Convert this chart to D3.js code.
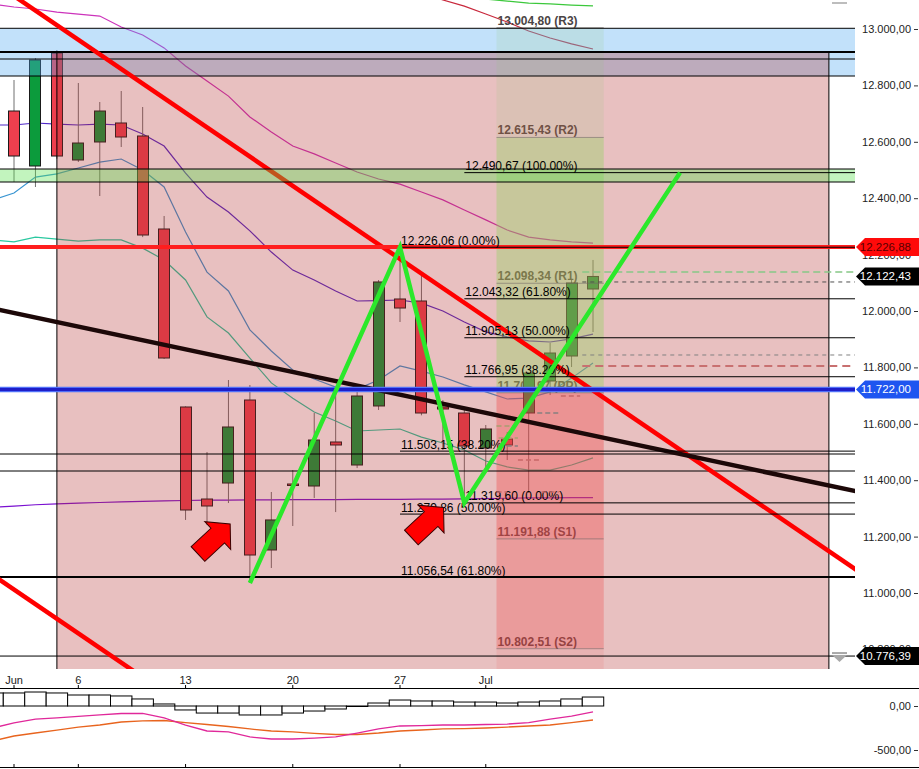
<!DOCTYPE html>
<html><head><meta charset="utf-8">
<script src="https://cdn.jsdelivr.net/npm/d3@7"></script>
<style>
html,body{margin:0;padding:0;background:#fff;}
svg{display:block;font-family:Arial,"Liberation Sans",sans-serif;}
</style></head><body>
<svg id="c" width="919" height="769"></svg>
<script>
// ---------------- DATA ----------------
const dates = ["2022-06-01","2022-06-02","2022-06-03","2022-06-06","2022-06-07","2022-06-08","2022-06-09","2022-06-10","2022-06-13","2022-06-14","2022-06-15","2022-06-16","2022-06-17","2022-06-20","2022-06-21","2022-06-22","2022-06-23","2022-06-24","2022-06-27","2022-06-28","2022-06-29","2022-06-30","2022-07-01","2022-07-04","2022-07-05","2022-07-06","2022-07-07","2022-07-08"];
const openP  = [12709.2,12514.2,12914.9,12535.5,12599.3,12666.7,12620.6,12290.8,11659.6,11333.3,11390.0,11684.4,11152.5,11386.5,11379.4,11535.5,11453.9,11663.2,12042.6,12035.5,11659.6,11638.3,11514.2,11546.0,11638.3,11751.8,11840.4,12078.0];
const closeP = [12549.6,12890.1,12549.6,12595.7,12709.2,12617.0,12269.5,11833.3,11294.3,11308.5,11588.7,11134.7,11259.0,11383.0,11542.5,11524.8,11698.6,12102.9,12010.6,11638.3,11652.5,11521.3,11581.6,11524.8,11780.0,11851.0,12099.3,12122.43];
const highP  = [12819.1,12897.0,12925.5,12808.5,12741.1,12780.1,12723.4,12336.9,11662.0,11500.0,11755.3,11737.6,11358.2,11436.0,11638.3,11712.8,11712.8,12109.9,12226.06,12134.8,11684.0,11656.0,11595.7,11571.0,11783.0,11886.5,12109.9,12180.9];
const lowP   = [12457.5,12439.7,12540.0,12528.4,12407.8,12581.6,12262.0,11829.8,11259.0,11241.0,11319.0,11035.5,11088.7,11237.6,11336.9,11287.0,11443.0,11649.0,11961.0,11630.0,11507.0,11319.60,11436.0,11471.6,11354.6,11702.0,11801.4,11925.5];

// indicator series start at day index -1 (2022-05-31)
const seriesStart = -1;
const maMagenta = [13088.7,13078,13071,13060,13053,13046,13007,12979,12933,12869,12816,12762,12688,12635,12585,12557,12525,12493,12468,12450,12422,12394,12358,12323,12287,12262,12252,12245,12241];
const maPurple  = [12659.6,12659.6,12666.7,12663,12659.6,12663,12659.6,12627.7,12585,12489,12404,12351,12284,12209,12145,12110,12071,12035.5,12037,12039,12028,12000,11961,11926,11908,11894,11890,11901,11918];
const maSteel   = [12393.6,12418.4,12475,12486,12507,12528,12539,12500,12440,12280,12138,12071,11933,11858,11791,11759,11730,11723,11755,11805,11787,11766,11738,11713,11688,11691,11713,11762,11816];
const maTeal    = [12252,12245,12262,12255,12248,12252,12252,12223,12181,12110,11979,11922,11833,11745,11691,11642,11610,11574.5,11578,11581.6,11553,11532,11507,11468,11447,11436,11436,11454,11479];
const maLower   = [11304,11308,11313,11316,11319,11321,11323,11325,11327,11328,11329,11329,11330,11330,11331,11331,11331,11332,11332,11332,11333,11333,11334,11335,11336,11337,11337,11338,11338];
const topRedStart = 18;
const topRed   = [13156,13128,13103,13081,13053,13025,12993,12968,12947,12929];
const topGreenStart = 22;
const topGreen = [13106,13099,13092,13089,13085,13082];

const macdHist   = [148,148,159,148,125,125,114,80,23,-45,-80,-80,-102,-102,-80,-57,-34,-3,34,68,57,57,45,45,34,45,57,80,102];
const macdLine   = [-250,-193,-148,-136,-119,-102,-85,-85,-136,-216,-284,-295,-352,-375,-375,-364,-352,-307,-261,-227,-222,-216,-216,-210,-205,-188,-148,-114,-68];
const macdSignal = [-398,-341,-307,-273,-239,-216,-182,-170,-165,-188,-210,-233,-261,-284,-295,-312,-324,-324,-307,-284,-273,-261,-256,-250,-239,-227,-216,-188,-159];

const xTickIndex  = [0,3,8,13,18,22];
const xTickLabels = ["Jun","6","13","20","27","Jul"];
const yTicks = [13000,12800,12600,12400,12200,12000,11800,11600,11400,11200,11000,10800];
const macdTicks = [0,-500];

const pivotNames  = ["R3","R2","R1","PP","S1","S2"];
const pivotValues = [13004.80,12615.43,12098.34,11709.97,11191.88,10802.51];
const pivotWeek   = [22.5,27.5];

const fibUpperValues = [12490.67,12043.32,11905.13,11766.95,11319.60];
const fibUpperPct    = ["100.00%","61.80%","50.00%","38.20%","0.00%"];
const fibUpperFrom   = 21;
const fibLowerValues = [12226.06,11503.15,11279.86,11056.54];
const fibLowerPct    = ["0.00%","38.20%","50.00%","61.80%"];
const fibLowerFrom   = 18;

const blueZone  = [13002.5,12833.3];
const greenZone = [12503.5,12457.4];
const pinkZone  = [2,38];
const pinkTop   = 12918.4;
const thinLevels = [13002.5,12893.6,12833.3,11492.9,11432.6,10776.39];
const thickLevels = [12918.4,11056.54];
const levelRed  = 12226.88;
const levelBlue = 11722.00;
const lastClose = 12122.43;
const lastLow   = 10776.39;

const dashFrom = 26.5;
const dashLevels = [12138.3,12102.9,11844.0,11805.0];
const shortDashes = [[22.5,23.3,11592],[22.6,23.5,11550],[22.6,23.5,11521],[23.5,24.5,11472],[24.4,25.4,11638],[25.5,26.4,11699],[24.6,25.4,11358],[22.5,23.0,11358]];

const trendRedUpper = [[-1,13169],[40,11044.7]];
const trendRedLower = [[-1,11063.9],[10,10494.3]];
const trendBlack    = [[-1,12009.2],[40,11349.0]];
const zigzag        = [[11,11035.5],[18,12226.06],[21,11319.60],[31.06,12490.67]];
const arrowsAt      = [[9.33,11191.5],[19.28,11250.0]];

// ---------------- DRAW ----------------
const W = 855, H = 669;
const svg = d3.select("#c");
const x = d3.scaleLinear().domain([0,27]).range([14,593]);
const y = d3.scaleLinear().domain([10800,13000]).range([649.4,29]);
const yM = d3.scaleLinear().domain([-500,0]).range([750,706]);
const loc = d3.formatLocale({decimal:",",thousands:".",grouping:[3],currency:["",""],minus:"-"});
const fmt = loc.format(",.2f");
const FONT = 'Arial,"Liberation Sans",sans-serif';

svg.append("rect").attr("width",919).attr("height",769).attr("fill","#fff");
svg.append("defs").append("clipPath").attr("id","clipMain").append("rect").attr("width",W).attr("height",H);
const g = svg.append("g").attr("clip-path","url(#clipMain)");

const pairs = (arr,start)=>arr.map((v,k)=>[start+k,v]);
const line = d3.line().x(d=>x(d[0])).y(d=>y(d[1]));
const hline = (sel,v,x0,x1)=>sel.append("line").attr("x1",x0).attr("x2",x1).attr("y1",y(v)).attr("y2",y(v));

// moving averages / bands (under overlays)
const maDefs = [[maMagenta,seriesStart,"#CC33BB"],[maPurple,seriesStart,"#5028C8"],[maSteel,seriesStart,"#3A96D2"],[maTeal,seriesStart,"#2AC8A0"],[maLower,seriesStart,"#7A10D0"],[topRed,topRedStart,"#C8283C"],[topGreen,topGreenStart,"#3CC83C"]];
maDefs.forEach(([arr,s,c])=>{
  g.append("path").attr("d",line(pairs(arr,s))).attr("fill","none").attr("stroke",c).attr("stroke-width",1.2);
});

// pivot labels (beneath overlays)
pivotValues.forEach((v,k)=>{
  g.append("text").attr("x",x(pivotWeek[0])+1).attr("y",y(v)-3)
   .attr("font-size",12).attr("font-weight","bold").attr("fill","#4a4444")
   .text(`${fmt(v)} (${pivotNames[k]})`);
});

// candles
const cg = g.append("g");
dates.forEach((d,i)=>{
  const up = closeP[i] >= openP[i];
  cg.append("line").attr("x1",x(i)).attr("x2",x(i)).attr("y1",y(highP[i])).attr("y2",y(lowP[i]))
    .attr("stroke","#707070").attr("stroke-width",1);
  const top = y(Math.max(openP[i],closeP[i])), bot = y(Math.min(openP[i],closeP[i]));
  cg.append("rect").attr("x",Math.round(x(i))-5.5).attr("width",11)
    .attr("y",top).attr("height",Math.max(1.5,bot-top))
    .attr("fill",up?"#0C9B3C":"#EE3F4E").attr("stroke","#1a1a1a").attr("stroke-width",1);
});

// blue zone
g.append("rect").attr("x",0).attr("width",W).attr("y",y(blueZone[0])).attr("height",y(blueZone[1])-y(blueZone[0]))
 .attr("fill","rgba(80,170,240,0.35)");
// pink zone
g.append("rect").attr("x",x(pinkZone[0])).attr("width",x(pinkZone[1])-x(pinkZone[0]))
 .attr("y",y(pinkTop)).attr("height",H-y(pinkTop)).attr("fill","rgba(178,45,45,0.3)");
// weekly pivot column zones
const zoneFills = ["rgba(150,200,120,0.15)","rgba(150,210,100,0.4)","rgba(240,80,80,0.4)","rgba(240,80,80,0.33)","rgba(240,80,80,0.12)"];
const px0 = x(pivotWeek[0]), px1 = x(pivotWeek[1]);
const zoneEdges = [y(pivotValues[0]),y(pivotValues[1]),y(pivotValues[3]),y(pivotValues[4]),y(pivotValues[5]),H];
zoneFills.forEach((f,k)=>{
  g.append("rect").attr("x",px0).attr("width",px1-px0).attr("y",zoneEdges[k]).attr("height",zoneEdges[k+1]-zoneEdges[k]).attr("fill",f);
});
pivotValues.forEach(v=>hline(g,v,px0,px1).attr("stroke","rgba(110,100,100,0.55)").attr("stroke-width",1));

// horizontal levels
thinLevels.forEach(v=>hline(g,v,0,W).attr("stroke","#000").attr("stroke-width",1));
thickLevels.forEach(v=>hline(g,v,0,W).attr("stroke","#000").attr("stroke-width",2));
// pink zone border
g.append("rect").attr("x",x(pinkZone[0])).attr("width",x(pinkZone[1])-x(pinkZone[0]))
 .attr("y",y(pinkTop)).attr("height",H-y(pinkTop)+5).attr("fill","none").attr("stroke","#000").attr("stroke-width",1);

// red channel trendlines
[trendRedUpper,trendRedLower].forEach(t=>{
  g.append("path").attr("d",line(t)).attr("fill","none").attr("stroke","#FF0000").attr("stroke-width",4.5);
});

// green zone
g.append("rect").attr("x",0).attr("width",W).attr("y",y(greenZone[0])).attr("height",y(greenZone[1])-y(greenZone[0]))
 .attr("fill","rgba(90,225,80,0.37)");
greenZone.forEach(v=>hline(g,v,0,W).attr("stroke","#000").attr("stroke-width",1));

// black trendline
g.append("path").attr("d",line(trendBlack)).attr("fill","none").attr("stroke","#1c0808").attr("stroke-width",4.5);

// red & blue horizontal levels
hline(g,levelRed,0,W).attr("stroke","#FF1E1E").attr("stroke-width",4);
hline(g,levelBlue,0,W).attr("stroke","#5070F8").attr("stroke-width",5.5);
hline(g,levelBlue,0,W).attr("stroke","#1E1EC8").attr("stroke-width",3);

// fibonacci sets
const fibText = (v,pct,x0)=> g.append("text").attr("x",x0+1).attr("y",y(v)-2.5).attr("font-size",12).attr("fill","#000").text(`${fmt(v)} (${pct})`);
fibUpperValues.forEach((v,k)=>{ hline(g,v,x(fibUpperFrom),W).attr("stroke","#000").attr("stroke-width",1); fibText(v,fibUpperPct[k],x(fibUpperFrom)); });
fibLowerValues.forEach((v,k)=>{ hline(g,v,x(fibLowerFrom),W).attr("stroke","#000").attr("stroke-width",1); fibText(v,fibLowerPct[k],x(fibLowerFrom)); });

// dashed levels
const dashStyles = [["#86C886","7,4",1.5],["#505050","4,4",1],["#808080","4,4",1],["#C87070","8,5",2]];
dashLevels.forEach((v,k)=>{
  hline(g,v,x(dashFrom),W).attr("stroke",dashStyles[k][0]).attr("stroke-dasharray",dashStyles[k][1]).attr("stroke-width",dashStyles[k][2]);
});
const shortDashColors = ["#A8A070","#A8A070","#888080","#C86868","#888080","#C86868","#C86868","#C86868"];
shortDashes.forEach((s,k)=>{
  hline(g,s[2],x(s[0]),x(s[1])).attr("stroke",shortDashColors[k]).attr("stroke-dasharray","5,3").attr("stroke-width",1.5);
});

// zigzag
g.append("path").attr("d",line(zigzag)).attr("fill","none").attr("stroke","#2BE82B").attr("stroke-width",4.5).attr("stroke-linejoin","miter");

// red arrows
const arrowPts = [[-22,-10],[5,-10],[5,-19],[22,0],[5,19],[5,10],[-22,10]];
arrowsAt.forEach(a=>{
  g.append("path").attr("d","M"+arrowPts.map(p=>p.join(",")).join("L")+"Z")
   .attr("transform",`translate(${x(a[0])},${y(a[1])}) rotate(-43)`)
   .attr("fill","#FF0000").attr("stroke","#3a0000").attr("stroke-width",1);
});

// right axis labels
const axG = svg.append("g").attr("font-family",FONT).attr("font-size",11).attr("fill","#222");
yTicks.forEach(v=>{
  axG.append("text").attr("x",911).attr("y",y(v)+4).attr("text-anchor","end").text(fmt(v));
  axG.append("line").attr("x1",914).attr("x2",918).attr("y1",y(v)+0.5).attr("y2",y(v)+0.5).attr("stroke","#333");
});

// price tags
const tag = (v,bg,fg)=>{
  const yy = y(v);
  svg.append("path").attr("d",`M856,${yy}L865,${yy-9}L919,${yy-9}L919,${yy+9}L865,${yy+9}Z`).attr("fill",bg);
  svg.append("text").attr("x",911).attr("y",yy+4).attr("text-anchor","end").attr("font-size",11.5).attr("fill",fg).attr("font-family",FONT).text(fmt(v));
};
tag(levelRed,"#FF0A0A","#5a0000");
tag(lastClose,"#000","#fff");
tag(levelBlue,"#1E55F0","#fff");
tag(lastLow,"#000","#fff");

// small grey markers
svg.append("rect").attr("x",832).attr("y",2).attr("width",15).attr("height",2).attr("fill","#bdbdbd");
svg.append("rect").attr("x",832).attr("y",y(lastLow)-4).attr("width",15).attr("height",2).attr("fill","#a8a8a8");
svg.append("path").attr("d",`M832,${y(lastLow)-1}L847,${y(lastLow)-1}L839.5,${y(lastLow)+6}Z`).attr("fill","#a8a8a8");

// x axis labels
const xa = svg.append("g").attr("font-family",FONT).attr("font-size",11).attr("fill","#222");
xTickIndex.forEach((ix,k)=>{
  xa.append("text").attr("x",x(ix)).attr("y",684).attr("text-anchor","middle").text(xTickLabels[k]);
  xa.append("line").attr("x1",x(ix)).attr("x2",x(ix)).attr("y1",685).attr("y2",688).attr("stroke","#000");
  xa.append("line").attr("x1",x(ix)).attr("x2",x(ix)).attr("y1",764).attr("y2",767).attr("stroke","#000");
});

// MACD panel
svg.append("line").attr("x1",0).attr("x2",919).attr("y1",688.5).attr("y2",688.5).attr("stroke","#000");
svg.append("line").attr("x1",0).attr("x2",919).attr("y1",767.5).attr("y2",767.5).attr("stroke","#000");
const step = x(1)-x(0);
const mg = svg.append("g");
macdHist.forEach((v,k)=>{
  const i = seriesStart+k;
  const t = yM(Math.max(v,0)), b = yM(Math.min(v,0));
  mg.append("rect").attr("x",x(i)-step/2).attr("width",step).attr("y",t).attr("height",Math.max(0.5,b-t))
    .attr("fill","#fff").attr("stroke","#000").attr("stroke-width",1);
});
const mline = d3.line().x(d=>x(d[0])).y(d=>yM(d[1]));
mg.append("path").attr("d",mline(pairs(macdSignal,seriesStart))).attr("fill","none").attr("stroke","#E8641E").attr("stroke-width",1.3);
mg.append("path").attr("d",mline(pairs(macdLine,seriesStart))).attr("fill","none").attr("stroke","#E0289A").attr("stroke-width",1.3);
macdTicks.forEach(v=>{
  axG.append("text").attr("x",911).attr("y",yM(v)+4).attr("text-anchor","end").text(loc.format(",.2f")(v));
  axG.append("line").attr("x1",914).attr("x2",918).attr("y1",yM(v)+0.5).attr("y2",yM(v)+0.5).attr("stroke","#333");
});
</script>
</body></html>
